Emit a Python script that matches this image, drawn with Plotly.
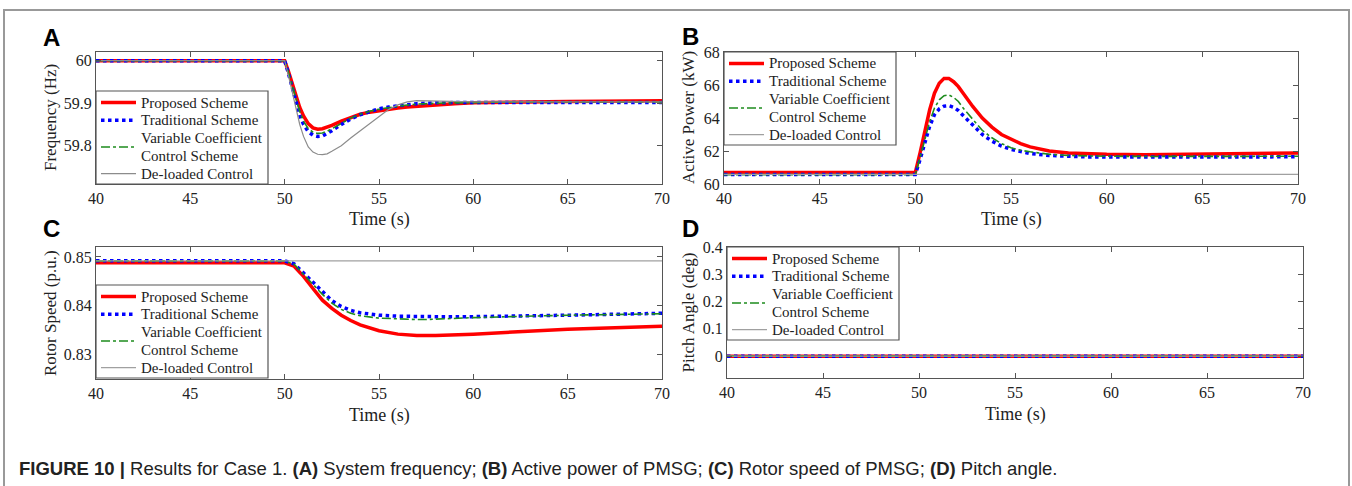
import plotly.graph_objects as go

W, H = 1352, 486

names = ["Proposed Scheme", "Traditional Scheme", "Variable Coefficient", "Control Scheme", "De-loaded Control"]
colors = ["#ff0000", "#0000ff", "#1e8c1e", "#a0a0a0"]
widths = [3.5, 3.5, 1.6, 1.2]
dashes = ["solid", "dot", "dashdot", "solid"]

x_ticks = [40, 45, 50, 55, 60, 65, 70]

# (A) system frequency
t_a = [40, 50, 50.2, 50.4, 50.6, 50.8, 51, 51.25, 51.5, 51.75, 52, 52.25, 52.5, 53, 53.5,
       54, 54.5, 55, 55.5, 56, 56.5, 57, 58, 59, 60, 62, 65, 70]
f_prop = [60, 60, 59.975, 59.945, 59.915, 59.89, 59.87, 59.852, 59.842, 59.839, 59.840, 59.843,
          59.848, 59.858, 59.867, 59.874, 59.879, 59.883, 59.886, 59.889, 59.891, 59.893, 59.896,
          59.899, 59.901, 59.903, 59.904, 59.906]
f_trad = [60, 60, 59.970, 59.935, 59.900, 59.872, 59.850, 59.833, 59.825, 59.822, 59.823, 59.828,
          59.835, 59.850, 59.863, 59.873, 59.881, 59.887, 59.891, 59.894, 59.897, 59.899, 59.901,
          59.902, 59.902, 59.902, 59.902, 59.902]
f_var = [60, 60, 59.972, 59.940, 59.907, 59.880, 59.858, 59.840, 59.832, 59.829, 59.830, 59.834,
         59.840, 59.853, 59.865, 59.874, 59.881, 59.886, 59.890, 59.893, 59.896, 59.898, 59.900,
         59.901, 59.902, 59.903, 59.903, 59.903]
f_del = [60, 60, 59.965, 59.925, 59.885, 59.850, 59.822, 59.797, 59.785, 59.780, 59.779, 59.781,
         59.787, 59.800, 59.818, 59.835, 59.853, 59.870, 59.885, 59.896, 59.903, 59.906, 59.905,
         59.904, 59.903, 59.903, 59.903, 59.903]

# (B) active power (kW)
t_b = [40, 50, 50.25, 50.5, 50.75, 51, 51.25, 51.5, 51.75, 52, 52.25, 52.5, 53, 53.5, 54, 54.5,
       55, 55.5, 56, 57, 58, 59, 60, 62, 65, 70]
p_prop = [60.70, 60.70, 61.9, 63.2, 64.5, 65.5, 66.1, 66.4, 66.4, 66.2, 65.9, 65.5, 64.7, 64.0,
          63.45, 63.0, 62.7, 62.45, 62.25, 62.0, 61.88, 61.83, 61.80, 61.78, 61.82, 61.88]
p_trad = [60.57, 60.57, 61.5, 62.5, 63.5, 64.2, 64.55, 64.72, 64.75, 64.65, 64.45, 64.15, 63.55,
          63.0, 62.6, 62.3, 62.1, 61.95, 61.85, 61.73, 61.67, 61.64, 61.63, 61.62, 61.63, 61.65]
p_var = [60.57, 60.57, 61.6, 62.7, 63.8, 64.6, 65.1, 65.35, 65.4, 65.25, 65.0, 64.6, 63.9, 63.25,
         62.8, 62.45, 62.2, 62.05, 61.95, 61.8, 61.73, 61.70, 61.68, 61.67, 61.67, 61.68]
t_b_del = [40, 70]
p_del = [60.58, 60.58]

# (C) rotor speed (p.u.)
t_c = [40, 50, 50.5, 51, 51.5, 52, 52.5, 53, 53.5, 54, 55, 56, 57, 57.5, 58, 60, 62, 65, 70]
w_prop = [0.8488, 0.8488, 0.8481, 0.8460, 0.8435, 0.8411, 0.8394, 0.8380, 0.8369, 0.8360, 0.8348,
          0.8341, 0.8338, 0.8338, 0.8338, 0.8341, 0.8345, 0.8351, 0.8357]
w_trad = [0.8492, 0.8492, 0.8486, 0.8467, 0.8446, 0.8428, 0.8410, 0.8398, 0.8390, 0.8385, 0.8380,
          0.8378, 0.8377, 0.8377, 0.8377, 0.8377, 0.8378, 0.8380, 0.8384]
w_var = [0.8492, 0.8492, 0.8485, 0.8464, 0.8442, 0.8423, 0.8405, 0.8392, 0.8384, 0.8379, 0.8374,
         0.8372, 0.8371, 0.8371, 0.8372, 0.8375, 0.8377, 0.8380, 0.8383]
t_c_del = [40, 70]
w_del = [0.8492, 0.8492]

# (D) pitch angle (deg)
t_d = [40, 70]
pitch_prop = [0, 0]
pitch_trad = [0, 0]
pitch_var = [0, 0]
pitch_del = [0, 0]

a_ticks = [59.8, 59.9, 60]
a_ticktext = ["59.8", "59.9", "60"]
b_ticks = [60, 62, 64, 66, 68]
c_ticks = [0.83, 0.84, 0.85]
c_ticktext = ["0.83", "0.84", "0.85"]
d_ticks = [0, 0.1, 0.2, 0.3, 0.4]
d_ticktext = ["0", "0.1", "0.2", "0.3", "0.4"]


def px(x):
    return x / W


def py(y):
    return 1 - y / H


serif = "Times New Roman, Liberation Serif, serif"
sans = "Arial, Liberation Sans, Helvetica, sans-serif"

# pixel boxes of the four panels: x0, x1, y0(top), y1(bottom)
boxes = {
    "A": (96, 662, 52, 184),
    "B": (724, 1298, 52, 184),
    "C": (96, 662, 247, 379),
    "D": (727, 1303, 247, 378),
}

fig = go.Figure()

panels = [
    ("A", "x", "y", [(t_a, f_prop), (t_a, f_trad), (t_a, f_var), (t_a, f_del)]),
    ("B", "x2", "y2", [(t_b, p_prop), (t_b, p_trad), (t_b, p_var), (t_b_del, p_del)]),
    ("C", "x3", "y3", [(t_c, w_prop), (t_c, w_trad), (t_c, w_var), (t_c_del, w_del)]),
    ("D", "x4", "y4", [(t_d, pitch_prop), (t_d, pitch_trad), (t_d, pitch_var), (t_d, pitch_del)]),
]

for key, xa, ya, series in panels:
    for i, (tx, vy) in enumerate(series):
        col = colors[i]
        if key == "A" and i == 3:
            col = "#8c8c8c"
        fig.add_trace(go.Scatter(
            x=tx, y=vy, mode="lines", xaxis=xa, yaxis=ya, showlegend=False,
            line=dict(color=col, width=widths[i], dash=dashes[i]),
        ))

axis_common = dict(
    showline=True, linecolor="#555", linewidth=1.2, mirror="ticks",
    ticks="inside", ticklen=5, tickcolor="#555", showgrid=False, zeroline=False,
    tickfont=dict(family=serif, size=16, color="#222"),
)

ranges = {
    "A": [59.71, 60.0205],
    "B": [60, 68],
    "C": [0.82485, 0.85206],
    "D": [-0.08, 0.4],
}
yticks = {
    "A": dict(tickvals=a_ticks, ticktext=a_ticktext),
    "B": dict(tickvals=b_ticks),
    "C": dict(tickvals=c_ticks, ticktext=c_ticktext),
    "D": dict(tickvals=d_ticks, ticktext=d_ticktext),
}

layout = {}
for n, key in enumerate(["A", "B", "C", "D"], start=1):
    x0, x1, y0, y1 = boxes[key]
    sfx = "" if n == 1 else str(n)
    layout["xaxis" + sfx] = dict(
        axis_common, domain=[px(x0), px(x1)], range=[40, 70], tickvals=x_ticks,
        anchor="y" + sfx,
    )
    layout["yaxis" + sfx] = dict(
        axis_common, domain=[py(y1), py(y0)], range=ranges[key], anchor="x" + sfx,
        **yticks[key],
    )

fig.update_layout(
    width=W, height=H, margin=dict(l=0, r=0, t=0, b=0, autoexpand=False),
    paper_bgcolor="white", plot_bgcolor="white", showlegend=False,
    **layout,
)

ytitles = {
    "A": "Frequency (Hz)",
    "B": "Active Power (kW)",
    "C": "Rotor Speed (p.u.)",
    "D": "Pitch Angle (deg)",
}
ytitle_x = {"A": 50, "B": 688, "C": 50, "D": 688}
letter_pos = {"A": (41, 37), "B": (680, 36), "C": (41, 228), "D": (680, 228)}
# legend boxes: left, top (pixels)
legend_pos = {"A": (96, 91), "B": (724, 52), "C": (96, 285), "D": (727, 247)}
LEG_W, LEG_H, LEG_STEP = 172, 93, 17.8

for key in ["A", "B", "C", "D"]:
    x0, x1, y0, y1 = boxes[key]
    fig.add_annotation(
        x=px((x0 + x1) / 2), y=py(y1 + 36), xref="paper", yref="paper", text="Time (s)",
        showarrow=False, font=dict(family=serif, size=18, color="#222"),
        xanchor="center", yanchor="middle",
    )
    fig.add_annotation(
        x=px(ytitle_x[key]), y=py((y0 + y1) / 2), xref="paper", yref="paper",
        text=ytitles[key], textangle=-90, showarrow=False,
        font=dict(family=serif, size=17, color="#222"), xanchor="center", yanchor="middle",
    )
    lx, ly = letter_pos[key]
    fig.add_annotation(
        x=px(lx), y=py(ly), xref="paper", yref="paper", text="<b>%s</b>" % key,
        showarrow=False, font=dict(family=sans, size=24, color="black"),
        xanchor="left", yanchor="middle",
    )

    # legend box
    gx, gy = legend_pos[key]
    fig.add_shape(
        type="rect", xref="paper", yref="paper", x0=px(gx), x1=px(gx + LEG_W),
        y0=py(gy + LEG_H), y1=py(gy), line=dict(color="#555", width=1.2),
        fillcolor="white", layer="above",
    )
    rows = [gy + 11.5 + k * LEG_STEP for k in range(5)]
    sample_rows = [rows[0], rows[1], (rows[2] + rows[3]) / 2, rows[4]]
    for i, sy in enumerate(sample_rows):
        col = colors[i]
        if key == "A" and i == 3:
            col = "#8c8c8c"
        fig.add_shape(
            type="line", xref="paper", yref="paper", x0=px(gx + 5), x1=px(gx + 40),
            y0=py(sy), y1=py(sy), layer="above",
            line=dict(color=col, width=widths[i], dash=dashes[i]),
        )
    for k, label in enumerate(names):
        fig.add_annotation(
            x=px(gx + 43), y=py(rows[k]), xref="paper", yref="paper", text=label,
            showarrow=False, font=dict(family=serif, size=15, color="#222"),
            xanchor="left", yanchor="middle",
        )

caption = ("<b>FIGURE 10 |</b> Results for Case 1. <b>(A)</b> System frequency; "
           "<b>(B)</b> Active power of PMSG; <b>(C)</b> Rotor speed of PMSG; <b>(D)</b> Pitch angle.")
fig.add_annotation(
    x=px(17), y=py(468), xref="paper", yref="paper", text=caption, showarrow=False,
    font=dict(family=sans, size=18.5, color="#222"), xanchor="left", yanchor="middle",
)

# frame around the figure
fig.add_shape(
    type="rect", xref="paper", yref="paper", x0=px(4), x1=px(1349), y0=py(500), y1=py(10),
    line=dict(color="#999", width=2), fillcolor="rgba(0,0,0,0)", layer="below",
)

fig.write_html("out.html", config={"displayModeBar": False},
               post_script="document.body.style.margin='0';")
